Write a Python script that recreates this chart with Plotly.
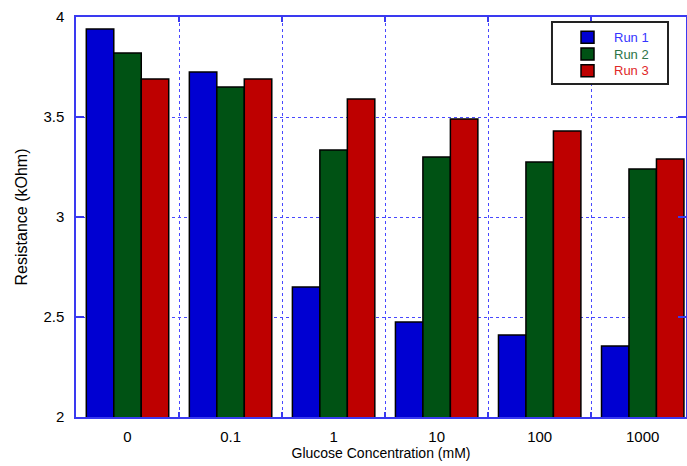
import plotly.graph_objects as go

categories = ["0", "0.1", "1", "10", "100", "1000"]
run1 = [3.94, 3.725, 2.65, 2.475, 2.41, 2.355]
run2 = [3.82, 3.65, 3.335, 3.30, 3.275, 3.24]
run3 = [3.69, 3.69, 3.59, 3.49, 3.43, 3.29]
series_names = ["Run 1", "Run 2", "Run 3"]
y_ticks = [2, 2.5, 3, 3.5, 4]
y_ticktext = ["2", "2.5", "3", "3.5", "4"]

colors = ["#0000d2", "#005214", "#be0000"]
text_colors = ["#3535ff", "#2d7448", "#e02828"]

fig = go.Figure()
for name, vals, c in zip(series_names, [run1, run2, run3], colors):
    fig.add_trace(go.Bar(
        x=categories, y=vals, name=name, showlegend=False,
        marker=dict(color=c, line=dict(color="#000000", width=1.5)),
    ))

# custom legend (box, swatches, coloured labels) in paper coordinates
shapes = [dict(type="rect", xref="paper", yref="paper", x0=0.7803, x1=0.9705,
               y0=0.8325, y1=0.9875, line=dict(color="#222222", width=2),
               fillcolor="white", layer="above")]
annotations = []
row_y = [0.9495, 0.9075, 0.8655]
for name, c, tc, yy in zip(series_names, colors, text_colors, row_y):
    shapes.append(dict(type="rect", xref="paper", yref="paper", x0=0.8279, x1=0.8492,
                       y0=yy - 0.015, y1=yy + 0.015, fillcolor=c,
                       line=dict(color="#000000", width=1.5), layer="above"))
    annotations.append(dict(xref="paper", yref="paper", x=0.878, y=yy, text=name,
                            showarrow=False, xanchor="left", yanchor="middle",
                            font=dict(size=13, color=tc)))

axis_blue = "#3a3af0"
grid_blue = "#4848ff"
fig.update_layout(
    width=687, height=466,
    margin=dict(l=76, r=1, t=17, b=49),
    paper_bgcolor="white", plot_bgcolor="white",
    barmode="group", bargap=0.2, bargroupgap=0,
    font=dict(family="Liberation Sans, Arial, sans-serif", size=14, color="black"),
    showlegend=False,
    shapes=shapes, annotations=annotations,
    xaxis=dict(
        type="category", range=[-0.5, 5.42], automargin=False,
        tickson="boundaries", ticks="inside", ticklen=5, tickcolor=axis_blue, tickwidth=1.5,
        showgrid=True, gridcolor=grid_blue, griddash="dot", gridwidth=1,
        showline=True, linecolor=axis_blue, linewidth=1.5, mirror="ticks",
        tickfont=dict(size=15), ticklabelstandoff=5,
        title=dict(text="Glucose Concentration (mM)", font=dict(size=14), standoff=3),
    ),
    yaxis=dict(
        range=[2, 4], tickvals=y_ticks, ticktext=y_ticktext, automargin=False,
        ticks="inside", ticklen=8, tickcolor=axis_blue, tickwidth=1.5,
        showgrid=True, gridcolor=grid_blue, griddash="dot", gridwidth=1,
        showline=True, linecolor=axis_blue, linewidth=1.5, mirror="ticks",
        tickfont=dict(size=15), ticklabelstandoff=7,
        title=dict(text="Resistance (kOhm)", font=dict(size=16), standoff=12),
        zeroline=False,
    ),
)

fig.write_html("out.html", config={"displayModeBar": False},
               post_script="document.body.style.margin='0';")
